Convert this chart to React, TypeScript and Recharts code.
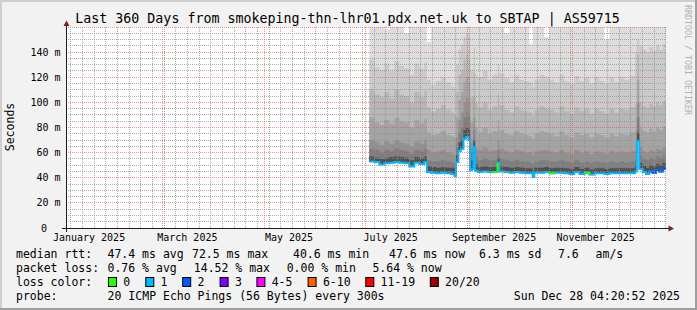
import React from 'react';
import { ComposedChart, Area, Line, Scatter, XAxis, YAxis, ReferenceLine, CartesianGrid } from 'recharts';

// day offsets from the start of the 360-day window (Thu Jan 02 2025 04:20)
const days = [182, 185, 188, 191, 194, 197, 200, 203, 206, 209, 212, 215,
  216.5, 219, 222, 225, 228, 231, 233,
  234, 235.5, 237, 238.5, 240, 241.5, 242.5, 243.5, 244.5, 245.5,
  247, 250, 253, 256, 259, 260, 263, 266, 269, 272, 275, 278, 280, 281,
  284, 287, 290, 293, 296, 299, 302, 305, 308, 311, 314, 317, 320, 323, 326, 329, 332, 335, 338,
  341.5, 342.5, 344, 346, 348, 350, 352, 354, 356, 358, 360];

// median RTT (ms)
const medianRtt = [53, 52.5, 50.5, 51.5, 52, 52.5, 52, 51.5, 49, 52, 51, 52.5,
  44.5, 44, 43.5, 44, 43.5, 43, 41.5,
  52.5, 61.5, 63, 71, 72.5, 70, 46, 47, 64, 45.5,
  44.5, 45, 44.5, 44.5, 52, 45, 44.5, 44, 44.5, 44, 43.5, 43.5, 40.6, 44,
  44, 44.5, 43.5, 44, 44, 43.5, 43, 44.5, 43, 44, 42.5, 43.5, 43.5, 43, 43.5, 43.5, 43.5, 43.5, 43.5,
  45, 69, 47, 44.5, 43, 45, 44, 46, 45, 47, 47.6];

// upper ping ranks (ms) forming the smoke
const ping13 = [57, 56, 55, 56, 56.5, 57, 56.5, 56, 54, 56.5, 55.5, 57,
  49, 48.5, 48, 48.5, 48, 48, 47,
  58, 68, 70, 78, 80, 78, 54, 54, 70, 51,
  48.5, 49, 48.5, 48.5, 56, 49, 48.5, 48, 48.5, 48, 47.5, 47.5, 45, 48,
  48, 48.5, 47.5, 48, 48, 47.5, 47, 48.5, 47, 48, 46.5, 47.5, 47.5, 47, 47.5, 47.5, 47.5, 47.5, 47.5,
  49.5, 76, 52, 49.5, 48, 50, 49, 51, 50, 52, 52.5];

const ping15 = [63, 62, 60, 62, 61, 63, 62, 61, 59, 62, 61, 63,
  54, 53, 53, 54, 53, 52, 51,
  64, 76, 80, 88, 92, 88, 60, 60, 78, 57,
  54, 55, 54, 54, 62, 55, 54, 53, 54, 53, 53, 52, 51, 53,
  54, 54, 53, 53, 54, 53, 52, 54, 52, 53, 52, 53, 52, 52, 53, 52, 53, 52, 53,
  55, 88, 58, 55, 54, 56, 55, 57, 56, 58, 58];

const ping16 = [70, 68, 66, 69, 67, 70, 68, 67, 65, 69, 67, 70,
  62, 60, 61, 62, 60, 59, 58,
  72, 86, 92, 100, 104, 100, 68, 68, 88, 64,
  62, 64, 61, 62, 70, 63, 61, 60, 62, 61, 60, 60, 58, 61,
  62, 62, 61, 60, 62, 60, 59, 62, 60, 61, 59, 61, 60, 59, 61, 60, 61, 60, 61,
  62, 100, 64, 61, 60, 62, 61, 63, 62, 64, 64];

const ping17 = [88, 84, 82, 86, 83, 88, 85, 84, 80, 86, 83, 87,
  76, 74, 75, 77, 74, 73, 72,
  88, 102, 108, 116, 120, 116, 84, 84, 104, 80,
  76, 80, 75, 77, 86, 78, 75, 74, 77, 75, 74, 73, 71, 75,
  77, 76, 75, 73, 77, 74, 72, 76, 74, 75, 72, 75, 74, 72, 75, 73, 75, 74, 76,
  78, 118, 80, 77, 76, 79, 77, 80, 78, 81, 80];

const ping18 = [110, 106, 104, 108, 103, 110, 106, 105, 100, 108, 104, 109,
  96, 93, 95, 98, 94, 92, 90,
  108, 122, 126, 134, 138, 134, 104, 104, 124, 100,
  96, 100, 94, 97, 106, 98, 94, 92, 97, 94, 93, 92, 89, 94,
  97, 95, 94, 92, 97, 93, 91, 96, 93, 95, 91, 95, 93, 91, 95, 92, 95, 94, 96,
  98, 138, 100, 97, 96, 99, 97, 100, 98, 101, 100];

const ping19 = [134, 128, 126, 131, 125, 133, 129, 127, 122, 131, 127, 132,
  118, 114, 117, 120, 116, 113, 111,
  130, 142, 146, 152, 155, 152, 126, 126, 144, 122,
  120, 125, 118, 122, 130, 123, 119, 116, 122, 118, 117, 116, 112, 118,
  122, 120, 118, 116, 122, 117, 115, 121, 117, 120, 115, 120, 117, 115, 120, 116, 120, 118, 121,
  140, 150, 145, 142, 140, 144, 141, 145, 142, 146, 144];

const ping20 = [165, 165, 165, 158, 165, 165, 165, 155, 165, 165, 165, 165,
  148, 165, 165, 165, 165, 165, 165,
  165, 165, 165, 165, 165, 165, 165, 165, 165, 165,
  165, 165, 165, 165, 165, 165, 155, 165, 165, 165, 165, 146, 165, 165,
  165, 152, 165, 165, 165, 165, 165, 165, 165, 165, 165, 165, 165, 150, 165, 165, 165, 165, 165,
  165, 165, 165, 165, 165, 165, 165, 165, 165, 165, 165];

// lost pings per sample (out of 20)
const lossCount = [1, 1, 1, 1, 1, 1, 1, 1, 1, 1, 1, 1,
  1, 1, 1, 1, 1, 1, 1,
  1, 1, 1, 1, 1, 1, 1, 1, 1, 1,
  1, 1, 1, 0, 1, 1, 1, 1, 1, 1, 1, 1, 1, 1,
  1, 1, 0, 1, 1, 1, 1, 1, 1, 0, 1, 1, 1, 1, 1, 1, 1, 1, 1,
  1, 1, 1, 1, 1, 2, 1, 2, 1, 2, 1];

const monthStarts = [-1.18, 57.82, 118.82, 179.82, 241.82, 302.82];
const monthLabels = ['January 2025', 'March 2025', 'May 2025', 'July 2025', 'September 2025', 'November 2025'];
const yTicks = [0, 20, 40, 60, 80, 100, 120, 140];
const firstWeekLine = 2.82;

const lossLegend = ['0', '1', '2', '3', '4-5', '6-10', '11-19', '20/20'];
const lossColors = ['#26ff00', '#00b8ff', '#0059ff', '#7e00ff', '#ff00ff', '#ff5e00', '#ff0000', '#a10000'];

const FONT = "'DejaVu Sans Mono', monospace";

const smokeBands = [
  { key: 's20', values: ping20, color: '#dddddd' },
  { key: 's19', values: ping19, color: '#cacaca' },
  { key: 's18', values: ping18, color: '#b7b7b7' },
  { key: 's17', values: ping17, color: '#a4a4a4' },
  { key: 's16', values: ping16, color: '#919191' },
  { key: 's15', values: ping15, color: '#7e7e7e' },
  { key: 's13', values: ping13, color: '#515151' },
];

const overlayBuckets = [0, 2, 3];

const data = days.map((d, i) => {
  const row: any = { d, med: medianRtt[i] };
  smokeBands.forEach((b) => { row[b.key] = [medianRtt[i], b.values[i]]; });
  overlayBuckets.forEach((c) => {
    row['m' + c] = lossCount[i] === c || (i > 0 && lossCount[i - 1] === c) ? medianRtt[i] : null;
  });
  return row;
});

const gridData = days.map((d, i) => ({ d, med: medianRtt[i] }));

const labelTicks = monthStarts.map((m) => Math.round((m + 15) * 100) / 100);
const redLines = monthStarts.filter((m) => m >= 0);
const weekLines: number[] = [];
for (let k = 0; firstWeekLine + 7 * k < 360; k++) weekLines.push(Math.round((firstWeekLine + 7 * k) * 100) / 100);
const minorY: number[] = [];
for (let v = 5; v <= 160; v += 5) if (v % 20 !== 0) minorY.push(v);
const majorY = [20, 40, 60, 80, 100, 120, 140, 160];

const weekGridData = weekLines.map((w) => ({ d: w, g: 0 }));
const monthGridData = redLines.map((m) => ({ d: m, g: 0 }));

const GRID = 'rgba(143,143,143,0.75)';
const MGRID = 'rgba(222,79,79,0.6)';

const MARGIN = { top: 27, right: 31, bottom: 0, left: 0 };

const makeVLine = (color: string) => (props: any) => {
  const { cx, cy } = props;
  if (cx == null || cy == null) return <g />;
  const x = Math.floor(cx) + 0.5;
  return <line x1={x} x2={x} y1={cy} y2={MARGIN.top} stroke={color} strokeWidth={1} strokeDasharray="1 1" />;
};
const WeekLineShape = makeVLine(GRID);
const MonthLineShape = makeVLine(MGRID);

const XTick = (props: any) => {
  const { x, y, payload } = props;
  const idx = labelTicks.indexOf(payload.value);
  return (
    <text x={x} y={y + 13} textAnchor="middle" fontFamily={FONT} fontSize={10} fill="#000">
      {monthLabels[idx]}
    </text>
  );
};

const YTick = (props: any) => {
  const { x, y, payload } = props;
  const v = payload.value;
  return (
    <text x={v === 0 ? x - 19 : x - 5.5} y={y} dy="0.35em" textAnchor="end" fontFamily={FONT} fontSize={10} fill="#000">
      {v === 0 ? '0' : `${v} m`}
    </text>
  );
};

const line1: [number, string][] = [[16, 'median rtt:'], [107.5, '47.4 ms avg'], [192, '72.5 ms max'], [293, '40.6 ms min'], [389, '47.6 ms now'], [479, '6.3 ms sd'], [558, '7.6'], [595.6, 'am/s']];
const line2: [number, string][] = [[16, 'packet loss:'], [107.5, '0.76 % avg'], [193.8, '14.52 % max'], [286.7, '0.00 % min'], [372.4, '5.64 % now']];
const boxX = [108, 145.3, 182.2, 219.6, 256.4, 307.6, 365.3, 429.8];

export default function App() {
  return (
    <div style={{ position: 'absolute', left: 0, top: 0, width: 697, height: 310 }}>
      <svg width={697} height={310} style={{ position: 'absolute', left: 0, top: 0 }}>
        <rect x={0} y={0} width={697} height={310} fill="#f2f2f2" />
        <rect x={0} y={0} width={697} height={2} fill="#cfcfcf" />
        <rect x={0} y={0} width={2} height={310} fill="#cfcfcf" />
        <rect x={0} y={308} width={697} height={2} fill="#9e9e9e" />
        <rect x={695} y={0} width={2} height={310} fill="#9e9e9e" />
        <text x={347.5} y={23} textAnchor="middle" fontFamily={FONT} fontSize={13.3} fill="#000">
          Last 360 Days from smokeping-thn-lhr01.pdx.net.uk to SBTAP | AS59715
        </text>
        <text x={10} y={127} transform="rotate(-90 10 127)" textAnchor="middle" dominantBaseline="central" fontFamily={FONT} fontSize={11.5} fill="#000">Seconds</text>
        <text x={688} y={60} transform="rotate(90 688 60)" textAnchor="middle" dominantBaseline="central" fontFamily={FONT} fontSize={8.3} fill="#b0b0b0">RRDTOOL / TOBI OETIKER</text>
        {line1.map(([x, t], i) => (
          <text key={'l1' + i} x={x} y={258} fontFamily={FONT} fontSize={11.5} fill="#000">{t}</text>
        ))}
        {line2.map(([x, t], i) => (
          <text key={'l2' + i} x={x} y={272} fontFamily={FONT} fontSize={11.5} fill="#000">{t}</text>
        ))}
        <text x={16} y={286} fontFamily={FONT} fontSize={11.5} fill="#000">loss color:</text>
        {lossLegend.map((t, i) => (
          <g key={'lc' + i}>
            <rect x={boxX[i] + 0.5} y={277.5} width={8} height={9} fill={lossColors[i]} stroke="#000" strokeWidth={1} />
            <text x={boxX[i] + 15.3} y={286} fontFamily={FONT} fontSize={11.5} fill="#000">{t}</text>
          </g>
        ))}
        <text x={16} y={300} fontFamily={FONT} fontSize={11.5} fill="#000">probe:</text>
        <text x={107.6} y={300} fontFamily={FONT} fontSize={11.5} fill="#000">20 ICMP Echo Pings (56 Bytes) every 300s</text>
        <text x={680} y={300} textAnchor="end" fontFamily={FONT} fontSize={11.5} fill="#000">Sun Dec 28 04:20:52 2025</text>
      </svg>
      <div style={{ position: 'absolute', left: 0, top: 0 }}>
        <ComposedChart width={697} height={310} data={data} margin={MARGIN}>
          <CartesianGrid fill="#ffffff" horizontal={false} vertical={false} stroke="none" />
          <XAxis type="number" dataKey="d" domain={[0, 360]} allowDataOverflow ticks={labelTicks} interval={0}
            tick={<XTick />} tickLine={false} axisLine={false} tickSize={0} tickMargin={0} height={82} />
          <YAxis type="number" domain={[0, 160]} allowDataOverflow ticks={yTicks} interval={0}
            tick={<YTick />} tickLine={false} axisLine={false} tickSize={0} tickMargin={0} width={66} />
          {smokeBands.map((b) => (
            <Area key={b.key} dataKey={b.key} type="stepAfter" stroke="none" fill={b.color} fillOpacity={1}
              isAnimationActive={false} dot={false} activeDot={false} />
          ))}
          <Line dataKey="med" type="stepAfter" stroke="#202020" strokeWidth={1} dot={false} activeDot={false} isAnimationActive={false} />
          <Line dataKey="med" type="stepAfter" stroke="#00b8ff" strokeWidth={2} dot={false} activeDot={false} isAnimationActive={false} />
          {overlayBuckets.map((c) => (
            <Line key={'m' + c} dataKey={'m' + c} type="stepAfter" stroke={lossColors[c]} strokeWidth={2} dot={false} activeDot={false}
              connectNulls={false} isAnimationActive={false} />
          ))}
        </ComposedChart>
      </div>
      <div style={{ position: 'absolute', left: 0, top: 0, pointerEvents: 'none' }}>
        <ComposedChart width={697} height={310} data={gridData} margin={MARGIN}>
          <XAxis type="number" dataKey="d" domain={[0, 360]} allowDataOverflow tick={false} tickLine={false} axisLine={false} height={82} />
          <YAxis type="number" domain={[0, 160]} allowDataOverflow tick={false} tickLine={false} axisLine={false} width={66} />
          <Line dataKey="med" stroke="none" dot={false} activeDot={false} isAnimationActive={false} />
          <Scatter data={weekGridData} dataKey="g" shape={WeekLineShape} isAnimationActive={false} />
          <Scatter data={monthGridData} dataKey="g" shape={MonthLineShape} isAnimationActive={false} />
          {minorY.map((v, i) => (
            <ReferenceLine key={'ymin' + i} y={v} stroke={GRID} strokeDasharray="1 1" shapeRendering="crispEdges" />
          ))}
          {majorY.map((v, i) => (
            <ReferenceLine key={'ymaj' + i} y={v} stroke={MGRID} strokeDasharray="1 1" shapeRendering="crispEdges" />
          ))}
        </ComposedChart>
      </div>
      <svg width={697} height={310} style={{ position: 'absolute', left: 0, top: 0, pointerEvents: 'none' }}>
        <line x1={66.5} y1={232} x2={66.5} y2={24} stroke="#1f1f1f" strokeWidth={1} />
        <line x1={62} y1={228.5} x2={669} y2={228.5} stroke="#1f1f1f" strokeWidth={1} />
        <polygon points="63.5,26 69.5,26 66.5,20.5" fill="#801f1f" />
        <polygon points="668.5,225.5 668.5,231.5 674,228.5" fill="#801f1f" />
      </svg>
    </div>
  );
}
